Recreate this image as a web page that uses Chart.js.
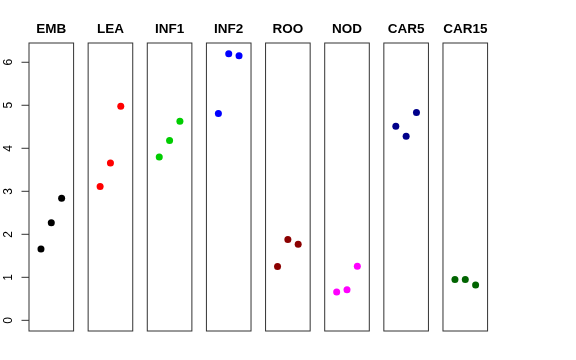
<!DOCTYPE html>
<html>
<head>
<meta charset="utf-8">
<script src="https://cdn.jsdelivr.net/npm/chart.js@4.4.1/dist/chart.umd.min.js"></script>
<style>
    html, body { margin: 0; padding: 0; background: #fff; }
    #wrap { position: relative; width: 576px; height: 360px; overflow: hidden; }
    #wrap canvas { position: absolute; top: 0; }
</style>
</head>
<body>
<div id="wrap"></div>
<script>
const groups = ['EMB', 'LEA', 'INF1', 'INF2', 'ROO', 'NOD', 'CAR5', 'CAR15'];
const positions = [1, 2, 3];
const EMB = [1.66, 2.27, 2.84];
const LEA = [3.11, 3.66, 4.98];
const INF1 = [3.80, 4.18, 4.63];
const INF2 = [4.81, 6.20, 6.15];
const ROO = [1.25, 1.88, 1.77];
const NOD = [0.66, 0.71, 1.26];
const CAR5 = [4.51, 4.28, 4.83];
const CAR15 = [0.95, 0.95, 0.82];
const yTicks = [0, 1, 2, 3, 4, 5, 6];
const colors = ['#000000', '#ff0000', '#00cd00', '#0000ff', '#8b0000', '#ff00ff', '#00008b', '#006400'];

const values = [EMB, LEA, INF1, INF2, ROO, NOD, CAR5, CAR15];

// layout of the small multiples
const H = 360, boxTop = 43, boxBottom = 331;
const firstLeft = 29, step = 59.14, boxW = 44.6, side = 16;

const wrap = document.getElementById('wrap');

const panelPlugin = {
    id: 'panel',
    afterDraw(chart, args, opts) {
        const ctx = chart.ctx, a = chart.chartArea;
        ctx.save();
        ctx.strokeStyle = '#333';
        ctx.lineWidth = 1;
        ctx.strokeRect(a.left, a.top, a.right - a.left, a.bottom - a.top);

        ctx.fillStyle = '#000';
        ctx.font = 'bold 13.5px "Liberation Sans", Arial, sans-serif';
        ctx.textAlign = 'center';
        ctx.textBaseline = 'middle';
        ctx.fillText(opts.title, (a.left + a.right) / 2, 29);

        if (opts.axis) {
            const y = chart.scales.y;
            ctx.font = '12px "Liberation Sans", Arial, sans-serif';
            ctx.textBaseline = 'alphabetic';
            yTicks.forEach(t => {
                const py = y.getPixelForValue(t);
                ctx.beginPath();
                ctx.moveTo(a.left - 7.5, py);
                ctx.lineTo(a.left, py);
                ctx.stroke();
                ctx.save();
                ctx.translate(11.5, py);
                ctx.rotate(-Math.PI / 2);
                ctx.fillText(String(t), 0, 0);
                ctx.restore();
            });
        }
        ctx.restore();
    }
};

groups.forEach((name, i) => {
    const boxLeft = firstLeft + i * step;
    const canvasLeft = i === 0 ? 0 : Math.floor(boxLeft - side);
    const padLeft = boxLeft - canvasLeft;
    const width = Math.ceil(padLeft + boxW + side);

    const canvas = document.createElement('canvas');
    canvas.width = width;
    canvas.height = H;
    canvas.style.left = canvasLeft + 'px';
    canvas.style.width = width + 'px';
    canvas.style.height = H + 'px';
    wrap.appendChild(canvas);

    new Chart(canvas.getContext('2d'), {
        type: 'scatter',
        data: {
            datasets: [{
                data: positions.map((x, j) => ({ x: x, y: values[i][j] })),
                backgroundColor: colors[i],
                borderWidth: 0,
                pointRadius: 3.5
            }]
        },
        options: {
            responsive: false,
            animation: false,
            devicePixelRatio: 1,
            layout: {
                padding: { left: padLeft, right: width - padLeft - boxW, top: boxTop, bottom: H - boxBottom }
            },
            plugins: {
                legend: { display: false },
                tooltip: { enabled: false },
                panel: { title: name, axis: i === 0 }
            },
            scales: {
                x: { type: 'linear', min: -0.16, max: 4.16, display: false },
                y: { type: 'linear', min: -0.248, max: 6.448, display: false }
            }
        },
        plugins: [panelPlugin]
    });
});
</script>
</body>
</html>
